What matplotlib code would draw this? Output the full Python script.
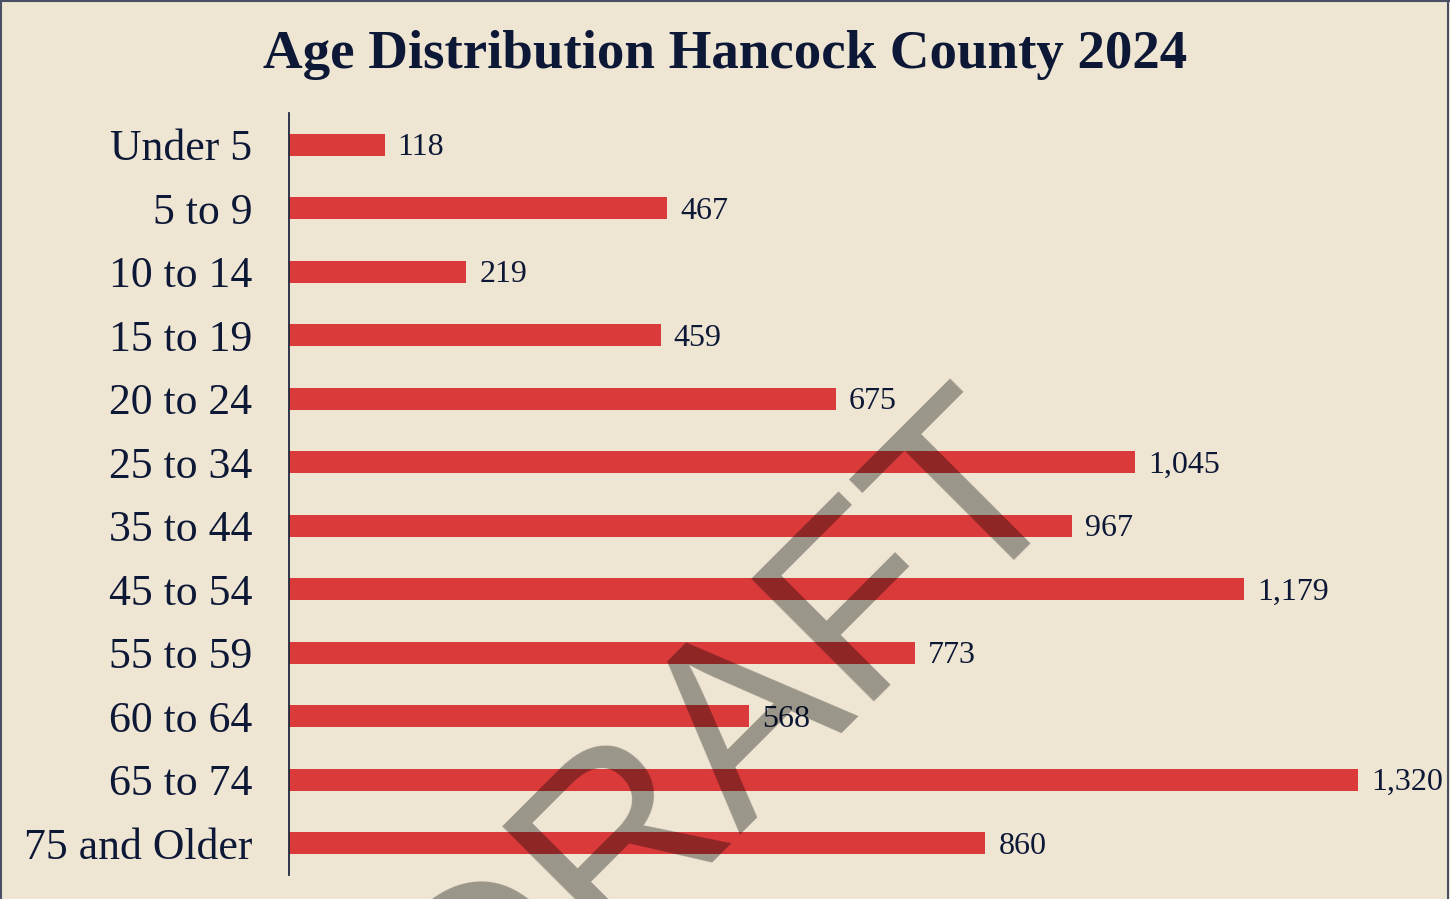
import matplotlib
matplotlib.use("Agg")
import matplotlib.pyplot as plt
from matplotlib.lines import Line2D

categories = ["Under 5", "5 to 9", "10 to 14", "15 to 19", "20 to 24", "25 to 34",
              "35 to 44", "45 to 54", "55 to 59", "60 to 64", "65 to 74", "75 and Older"]
values = [118, 467, 219, 459, 675, 1045, 967, 1179, 773, 568, 1320, 860]
title = "Age Distribution Hancock County 2024"
watermark = "DRAFT"

BG = "#EEE5D3"
BAR = "#DB3A3B"
NAVY = "#0D1836"
SERIF = ["Liberation Serif", "DejaVu Serif"]

W, H = 1450, 899
fig = plt.figure(figsize=(W / 100, H / 100), dpi=100, facecolor=BG)

# axes in pixel coordinates
left, right, top, bottom = 289, 1450, 113, 875
ax = fig.add_axes([left / W, 1 - bottom / H, (right - left) / W, (bottom - top) / H])
ax.set_facecolor(BG)

y = list(range(len(categories)))
ax.barh(y, values, height=0.35, color=BAR, zorder=2)
ax.set_ylim(len(categories) - 0.5, -0.5)
ax.set_xlim(0, (right - left) / ((1358 - 289) / 1320))

ax.set_yticks(y)
ax.set_yticklabels(categories, fontfamily=SERIF, fontsize=31.5, color=NAVY)
ax.tick_params(axis="y", length=0, pad=26.5)
ax.set_xticks([])
for s in ["top", "right", "bottom"]:
    ax.spines[s].set_visible(False)
ax.spines["left"].set_color("#1F2840")
ax.spines["left"].set_linewidth(1.3)

for yi, v in zip(y, values):
    ax.annotate(f"{v:,}", xy=(v, yi), xytext=(13, -3), textcoords="offset pixels",
                ha="left", va="center", fontfamily=SERIF, fontsize=23, color=NAVY,
                zorder=3, annotation_clip=False)

fig.text(0.5, 1 - 68 / H, title, ha="center", va="baseline", fontfamily=SERIF,
         fontsize=39.5, fontweight="bold", color=NAVY)

# watermark
fig.text(774 / W, 1 - 780 / H, watermark, ha="center", va="baseline", rotation=45,
         rotation_mode="anchor", fontfamily=["Liberation Sans", "DejaVu Sans"],
         fontsize=182, color="black", alpha=0.35, zorder=10)

# figure border (left, top, right)
bc = "#4A5064"
fig.add_artist(Line2D([1 / W, 1 / W], [0, 1], transform=fig.transFigure, color=bc, lw=1.5))
fig.add_artist(Line2D([0, 1], [1 - 0.7 / H, 1 - 0.7 / H], transform=fig.transFigure, color=bc, lw=1.5))
fig.add_artist(Line2D([1448 / W, 1448 / W], [0, 1], transform=fig.transFigure, color=bc, lw=1.5))

fig.savefig("out.png", dpi=100, facecolor=BG)
